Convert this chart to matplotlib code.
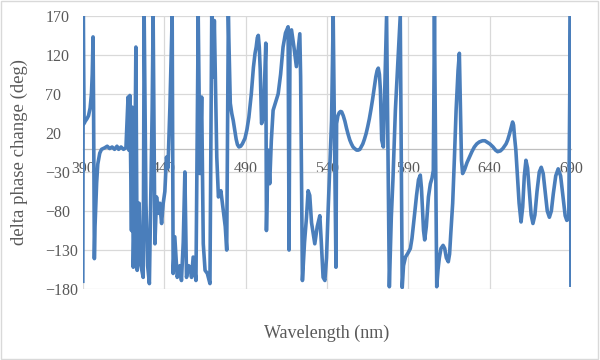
import matplotlib.pyplot as plt
from matplotlib.patches import Rectangle

# values (wavelength in nm, phase in deg)
wavelength = [
    390.0, 390.3, 390.8, 391.5, 392.5, 393.5, 394.5, 395.3, 395.8, 396.3,
    396.6, 397.1, 397.5, 397.9, 398.5, 399.2, 400.4, 401.5, 403.5, 405.0,
    406.5, 408.0, 409.5, 411.0, 412.0, 413.5, 415.0, 416.5, 417.8, 418.3,
    418.9, 419.9, 420.4, 421.0, 421.8, 422.6, 423.4, 424.6, 425.7, 427.1,
    427.7, 428.8, 429.8, 430.9, 431.6, 432.6, 433.2, 434.3, 435.3, 436.3,
    437.3, 438.4, 439.4, 440.4, 441.4, 442.3, 443.5, 444.9, 445.5, 446.5,
    448.0, 449.6, 450.6, 451.7, 452.7, 453.7, 455.0, 455.8, 456.8, 457.8,
    459.5, 460.9, 462.0, 463.0, 464.0, 465.1, 466.5, 468.1, 469.2, 470.2,
    470.8, 472.3, 473.3, 474.8, 476.3, 477.5, 478.4, 479.4, 480.6, 481.5,
    482.4, 483.3, 484.2, 485.0, 485.9, 487.0, 488.0, 489.6, 490.8, 492.0,
    493.5, 494.8, 495.8, 496.5, 497.2, 497.8, 498.4, 499.0, 499.8, 501.0,
    502.4, 502.8, 503.8, 504.8, 505.8, 506.9, 508.5, 510.0, 511.5, 513.0,
    514.5, 516.1, 516.7, 517.3, 518.2, 519.7, 521.2, 523.3, 523.8, 524.9,
    526.2, 527.4, 528.4, 529.4, 530.5, 532.5, 534.0, 535.6, 536.5, 537.6,
    538.7, 539.7, 540.7, 541.8, 542.8, 543.8, 545.5, 545.9, 546.7, 547.5,
    548.3, 549.0, 550.0, 551.0, 552.0, 553.0, 554.0, 555.0, 556.0, 557.0,
    558.2, 559.2, 560.2, 561.0, 562.0, 563.0, 564.0, 565.0, 566.0, 567.0,
    568.0, 569.0, 570.0, 570.8, 571.5, 572.2, 572.8, 573.6, 574.6, 576.6,
    578.3, 579.5, 580.5, 582.0, 585.0, 586.2, 587.0, 588.2, 589.7, 591.2,
    592.2, 593.0, 594.0, 595.0, 596.2, 597.3, 598.0, 598.7, 599.3, 600.0,
    601.0, 602.3, 603.5, 604.5, 605.3, 606.0, 607.4, 608.2, 609.0, 610.0,
    611.3, 612.3, 613.3, 614.5, 615.3, 616.0, 617.2, 618.3, 619.3, 620.5,
    621.3, 622.0, 622.6, 623.3, 624.5, 626.0, 627.5, 629.0, 630.5, 632.0,
    633.6, 635.5, 637.0, 638.5, 640.0, 642.0, 643.5, 644.8, 646.5, 648.0,
    650.0, 651.0, 652.0, 653.0, 654.0, 654.6, 655.2, 656.0, 657.0, 658.0,
    659.2, 660.2, 661.2, 662.2, 663.2, 664.3, 665.4, 666.5, 667.7, 669.0,
    670.4, 671.6, 672.8, 674.0, 675.3, 676.6, 677.8, 679.0, 680.5, 682.0,
    683.5, 685.0, 686.3, 687.3, 688.5, 689.5, 689.8,
]
phase = [
    -170, 170, 32, 35, 38, 42, 52, 70, 95, 143,
    60, -141, -100, -79, -44, -20, -6, -1, 1, 3,
    0, 2, -1, 3, -1, 2, -1, 1, 66, -2,
    68, -105, 53, -152, -70, 130, -156, -70, -150, -165,
    170, -70, -150, -173, -79, 49, 170, -122, -62, -83,
    -70, -96, -70, -55, -11, -25, 53, 170, -160, -113,
    -165, -150, -169, -120, -30, -165, -150, -152, -165, -139,
    -169, 170, -32, 66, -122, -156, -160, -173, 170, 92,
    164, -11, -62, -54, -79, -100, -130, 170, 58, 45,
    36, 24, 12, 5, 2, 3, 6, 13, 24, 40,
    70, 104, 122, 130, 142, 145, 130, 100, 32, 40,
    135, -105, -2, -45, 10, 49, 60, 70, 95, 130,
    148, 156, -130, 150, 152, 130, 105, 147, 92, -169,
    -120, -88, -54, -60, -95, -122, -100, -86, -120, -165,
    -169, -140, -79, -20, 36, 170, -152, 32, 42, 46,
    47.5, 47, 42, 35, 26, 18, 11, 6, 2, 0,
    -2, -2, -1, 2, 6, 12, 19, 28, 38, 50,
    63, 78, 92, 100, 103, 95, 75, 11, 2, 170,
    -177, -88, -40, 49, 170, -178, -150, -139, -134, -128,
    -115, -100, -80, -60, -40, -34, -50, -80, -105, -117,
    -100, -62, -45, -38, -28, 170, -177, -155, -140, -128,
    -124, -128, -140, -145, -135, -110, -70, -10, 49, 100,
    122, 50, -15, -32, -27, -18, -11, -4, 2, 6,
    8.5, 10, 10, 8, 6, 2, -2, -4, -3, 0,
    6, 11, 18, 26, 34, 30, 15, -2, -35, -70,
    -94, -75, -35, -15, -25, -55, -85, -96, -85, -55,
    -30, -24, -32, -55, -80, -88, -80, -58, -35, -26,
    -35, -62, -86, -92, -90, 170, -175,
]

xticks = [390, 440, 490, 540, 590, 640, 690]
yticks = [-180, -130, -80, -30, 20, 70, 120, 170]

plt.rcParams['font.family'] = ['Liberation Serif', 'DejaVu Serif']

fig = plt.figure(figsize=(6, 3.6), dpi=100)
ax = fig.add_axes([0.138, 0.197, 0.814, 0.759])

# thin grey frame round the whole chart, like the spreadsheet chart
fig.patches.append(Rectangle((0.002, 0.003), 0.995, 0.993, transform=fig.transFigure,
                             fill=False, edgecolor="#D9D9D9", linewidth=1))

ax.plot(wavelength, phase, color="#4A7EBB", linewidth=2.6, zorder=3,
        solid_joinstyle="round")

ax.set_xlim(390, 690)
ax.set_ylim(-180, 170)
ax.set_xticks(xticks)
ax.set_yticks(yticks)
ax.set_axisbelow(True)
ax.grid(True, color="#D9D9D9", linewidth=0.9)

for side in ["top", "right", "left"]:
    ax.spines[side].set_visible(False)
ax.spines["bottom"].set_position(("data", 0))
ax.spines["bottom"].set_color("#BFBFBF")
ax.spines["bottom"].set_linewidth(0.9)

ax.tick_params(axis="both", length=0, labelsize=11.5, colors="#595959")
ax.tick_params(axis="x", pad=9)
# y labels start at one left edge, as in the reference
ax.tick_params(axis="y", pad=27)
for lab in ax.get_yticklabels():
    lab.set_horizontalalignment("left")

ax.set_xlabel("Wavelength (nm)", fontsize=13, color="#595959")
ax.xaxis.set_label_coords(0.5, -0.13)
ax.set_ylabel("delta phase change (deg)", fontsize=13.5, color="#595959")
ax.yaxis.set_label_coords(-0.112, 0.5)

fig.savefig("out.png", dpi=100)
